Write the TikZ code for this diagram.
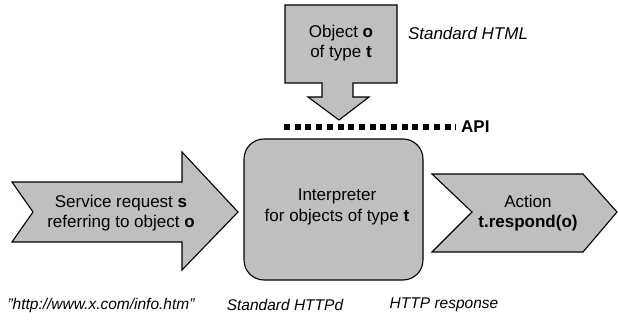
\documentclass[tikz,border=0pt]{standalone}
\usepackage{fontspec}
\setmainfont{Liberation Sans}
\usepackage{tikz}

\tikzset{
    form/.style={draw, fill=gray!50, line width=1.1pt, line join=miter},
    txt/.style={align=center, inner sep=0pt, font=\fontsize{17}{20.5}\selectfont},
    note/.style={inner sep=0pt, font=\fontsize{15.5}{19}\selectfont\itshape}
}

\begin{document}
\begin{tikzpicture}[x=1pt, y=-1pt]
\useasboundingbox (0,0) rectangle (618,328);

% Objekt von oben
\draw[form] (285,5) -- (397,5) -- (397,83) -- (353,83) -- (353,97) -- (369,97)
    -- (339,120) -- (308,97) -- (322,97) -- (322,83) -- (285,83) -- cycle;
\node[txt] (obj) at (341,43) {Object \textbf{o}\\of type \textbf{t}};
\node[note, font=\fontsize{17}{20}\selectfont\itshape] (html) at (468,33) {Standard HTML};

% API-Linie
\coordinate (apiL) at (284,127);
\coordinate (apiR) at (456,127);
\draw[line width=5.5pt, dash pattern=on 6pt off 4.7pt] (apiL) -- (apiR);
\node[inner sep=0pt, font=\fontsize{17}{20}\selectfont\bfseries, anchor=west] (api) at (461,127) {API};

% Anfrage (links)
\draw[form] (12,182) -- (182,182) -- (182,152) -- (238,212) -- (182,270)
    -- (182,242) -- (12,242) -- (33,212) -- cycle;
\node[txt] (req) at (121,213) {Service request \textbf{s}\\referring to object \textbf{o}};

% Interpreter (Mitte)
\draw[form, rounded corners=20pt] (244,139) rectangle (423,280);
\node[txt] (intp) at (337,207) {Interpreter\\for objects of type \textbf{t}};

% Aktion (rechts)
\draw[form] (432,174) -- (583,174) -- (617,212) -- (583,252) -- (432,252)
    -- (472,212) -- cycle;
\node[txt] (act) at (528,213) {Action\\\textbf{t.respond(o)}};

% Beschriftungen unten
\node[note] (url) at (101,305) {”http://www.x.com/info.htm”};
\node[note] (httpd) at (285,305) {Standard HTTPd};
\node[note] (resp) at (444,305) {HTTP response};

\end{tikzpicture}
\end{document}
